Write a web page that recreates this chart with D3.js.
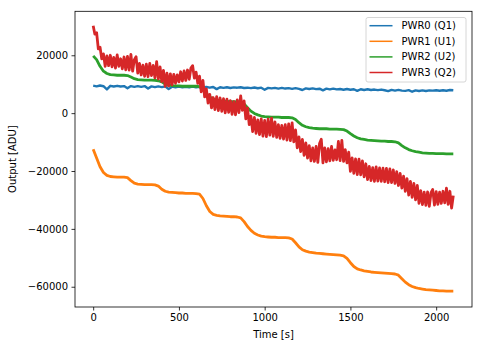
<!DOCTYPE html>
<html>
<head>
<meta charset="utf-8">
<script src="https://cdn.jsdelivr.net/npm/d3@7"></script>
<style>
  html, body { margin: 0; padding: 0; background: #fff; }
  svg text { font-family: "DejaVu Sans", sans-serif; fill: #000; }
</style>
</head>
<body>
<svg id="chart" width="483" height="347"></svg>
<script>
// Sample times (seconds): coarse grid for the smooth channels, fine grid for PWR3
const timesCoarse = d3.range(0, 2101, 20);
const timesFine = d3.range(0, 2101, 10);

const seriesNames = ["PWR0 (Q1)", "PWR1 (U1)", "PWR2 (U2)", "PWR3 (Q2)"];
const seriesColors = ["#1f77b4", "#ff7f0e", "#2ca02c", "#d62728"];

const xTicks = [0, 500, 1000, 1500, 2000];
const yTicks = [-60000, -40000, -20000, 0, 20000];

// PWR0 (Q1), every 20 s
const pwr0 = [
  9500, 9250, 9550, 9300, 8200, 9450, 9200, 9450, 9200, 9350,
  8600, 9350, 9100, 9350, 9100, 9350, 8500, 9250, 9000, 9250,
  9000, 9250, 8300, 9150, 8950, 9150, 8950, 9100, 8900, 9150,
  8900, 9100, 8850, 9050, 8800, 9050, 8300, 8950, 8750, 8950,
  8700, 8900, 8800, 8950, 8700, 8800, 8650, 8850, 8600, 8800,
  8100, 8750, 8550, 8750, 8500, 8750, 8500, 8650, 8400, 8650,
  8400, 8000, 8550, 8350, 8550, 8300, 8450, 7900, 8450, 8200,
  8450, 8200, 8350, 8100, 8350, 8100, 8250, 7700, 8250, 8000,
  8250, 8000, 8150, 7950, 8150, 7900, 7600, 8050, 7800, 8050,
  7800, 7700, 7950, 7400, 7850, 7650, 7850, 7650, 7850, 7800,
  7900, 7750, 7900, 7750, 8000, 7900
];

// PWR1 (U1), every 20 s
const pwr1 = [
  -12500, -15500, -18500, -20500, -21500, -21900, -22000, -22100, -22100, -22100,
  -22300, -23300, -24200, -24500, -24600, -24700, -24700, -24700, -24800, -25200,
  -26300, -27000, -27300, -27400, -27500, -27600, -27600, -27700, -27700, -27700,
  -27800, -28000, -29500, -32000, -34000, -35000, -35300, -35500, -35600, -35700,
  -35800, -35800, -35900, -36200, -37500, -39200, -40500, -41500, -42100, -42500,
  -42700, -42800, -42900, -42900, -43000, -43000, -43000, -43100, -43500, -44800,
  -46200, -47200, -47700, -48000, -48200, -48400, -48500, -48600, -48700, -48800,
  -48900, -49000, -49100, -49300, -50200, -51700, -53000, -53800, -54200, -54500,
  -54700, -54900, -55000, -55100, -55200, -55300, -55400, -55500, -55600, -56000,
  -57200, -58400, -59300, -59900, -60300, -60600, -60800, -61000, -61100, -61200,
  -61300, -61400, -61400, -61500, -61500, -61500
];

// PWR2 (U2), every 20 s
const pwr2 = [
  19800, 18500, 16200, 14500, 13700, 13300, 13200, 13100, 13100, 13100,
  13000, 12500, 11900, 11600, 11500, 11400, 11400, 11400, 11300, 11200,
  10800, 10100, 9700, 9500, 9400, 9400, 9300, 9300, 9300, 9300,
  9300, 9200, 8300, 6800, 5600, 4900, 4500, 4300, 4200, 4100,
  4000, 4000, 3900, 3800, 3200, 1900, 700, -100, -600, -1000,
  -1200, -1300, -1400, -1400, -1400, -1500, -1500, -1500, -1600, -2200,
  -3300, -4200, -4700, -5000, -5200, -5300, -5400, -5400, -5400, -5500,
  -5500, -5500, -5600, -5700, -6200, -7100, -7900, -8500, -8900, -9100,
  -9300, -9400, -9500, -9600, -9700, -9700, -9800, -9800, -9900, -10300,
  -11200, -12000, -12600, -13000, -13300, -13500, -13700, -13800, -13900, -13900,
  -14000, -14000, -14000, -14100, -14100, -14100
];

// PWR3 (Q2), every 10 s
const pwr3 = [
  30200, 27300, 27800, 22200, 22800, 18800, 20500, 16200, 19800, 16400,
  20000, 16000, 19300, 15600, 20100, 16200, 18800, 15300, 19400, 15000,
  19600, 14900, 20300, 14500, 18500, 19500, 13800, 17200, 13200, 16600,
  12700, 16900, 12600, 17200, 13000, 16500, 12200, 17800, 11800, 16000,
  10900, 14800, 9300, 13800, 9400, 13600, 9800, 13400, 10300, 13200,
  10800, 14300, 11100, 14600, 11300, 14900, 11700, 15600, 16400, 12100,
  14200, 10300, 12800, 7400, 11300, 5600, 8400, 3500, 6500, 1800,
  5400, 1200, 5700, 900, 5300, 600, 5000, 100, 4800, 300,
  4300, -400, 4000, -600, 4600, 200, 6000, 1000, 4200, -2000,
  1800, -4000, -1000, -6400, -1500, -7000, -2300, -7400, -2000, -7900,
  -2500, -8100, -2100, -7600, -1700, -8000, -3000, -8400, -4000, -8700,
  -4200, -9000, -4000, -9300, -3700, -9500, -3400, -9900, -5800, -12000,
  -8200, -13300, -9100, -14600, -10300, -15500, -11200, -16500, -12000, -16700,
  -11500, -17000, -10500, -9000, -17200, -12000, -16800, -12300, -16500, -11500,
  -16300, -12700, -16100, -9800, -16400, -9400, -16700, -12600, -17200, -13500,
  -20100, -15500, -20800, -15800, -21200, -15900, -21300, -16500, -22000, -17500,
  -23000, -18400, -23300, -18800, -23600, -18600, -23500, -18900, -23600, -19000,
  -23700, -19100, -24000, -19300, -24000, -19600, -24300, -20200, -25000, -20800,
  -25900, -21800, -27000, -22600, -28300, -23600, -29100, -24300, -30000, -25000,
  -31200, -26800, -31600, -27300, -31900, -27200, -32200, -27500, -26400, -31800,
  -27100, -31500, -27300, -31200, -27000, -31000, -25900, -31500, -27000, -32800,
  -28500
];

const seriesValues = [pwr0, pwr1, pwr2, pwr3];
const seriesTimes = [timesCoarse, timesCoarse, timesCoarse, timesFine];
// Noisy traces read as thicker strokes than the legend swatches
const traceWidths = [2.4, 2.8, 2.8, 2.8];

const svg = d3.select("#chart");
const plot = { left: 75, right: 472, top: 11.3, bottom: 307 };

const x = d3.scaleLinear().domain([-106, 2209]).range([plot.left, plot.right]);
const y = d3.scaleLinear().domain([-67000, 35200]).range([plot.bottom, plot.top]);

const fmt = v => String(v).replace("-", "\u2212");

// Data lines
const line = d3.line().x(d => x(d[0])).y(d => y(d[1]));
const g = svg.append("g");
seriesValues.forEach((vals, i) => {
  const pts = vals.map((v, k) => [seriesTimes[i][k], v]);
  g.append("path")
    .datum(pts)
    .attr("fill", "none")
    .attr("stroke", seriesColors[i])
    .attr("stroke-width", traceWidths[i])
    .attr("stroke-linejoin", "round")
    .attr("d", line);
});

// Axes
const xAxis = svg.append("g")
  .attr("transform", `translate(0,${plot.bottom})`)
  .call(d3.axisBottom(x).tickValues(xTicks).tickFormat(fmt).tickSize(3.5).tickPadding(3.5));
const yAxis = svg.append("g")
  .attr("transform", `translate(${plot.left},0)`)
  .call(d3.axisLeft(y).tickValues(yTicks).tickFormat(fmt).tickSize(3.5).tickPadding(3.5));
[xAxis, yAxis].forEach(ax => {
  ax.select(".domain").remove();
  ax.selectAll("line").attr("stroke", "#000").attr("stroke-width", 0.8);
  ax.selectAll("text").style("font-family", "DejaVu Sans, sans-serif").style("font-size", "10px").attr("fill", "#000");
});

// Frame
svg.append("rect")
  .attr("x", plot.left).attr("y", plot.top)
  .attr("width", plot.right - plot.left).attr("height", plot.bottom - plot.top)
  .attr("fill", "none").attr("stroke", "#000").attr("stroke-width", 0.8);

// Axis titles
svg.append("text")
  .attr("x", (plot.left + plot.right) / 2).attr("y", 337.5)
  .attr("text-anchor", "middle").style("font-size", "10px")
  .text("Time [s]");
svg.append("text")
  .attr("transform", `translate(15.5,${(plot.top + plot.bottom) / 2}) rotate(-90)`)
  .attr("text-anchor", "middle").style("font-size", "10px")
  .text("Output [ADU]");

// Legend
const lg = svg.append("g").attr("transform", "translate(366,17.5)");
lg.append("rect")
  .attr("width", 100).attr("height", 64.5).attr("rx", 2)
  .attr("fill", "#fff").attr("fill-opacity", 0.8)
  .attr("stroke", "#ccc").attr("stroke-width", 0.8);
seriesNames.forEach((name, i) => {
  const cy = 8.2 + i * 15.6;
  lg.append("line")
    .attr("x1", 3.5).attr("x2", 26.5).attr("y1", cy).attr("y2", cy)
    .attr("stroke", seriesColors[i]).attr("stroke-width", 1.5);
  lg.append("text")
    .attr("x", 35.5).attr("y", cy).attr("dy", "0.35em")
    .style("font-size", "10px")
    .text(name);
});
</script>
</body>
</html>
